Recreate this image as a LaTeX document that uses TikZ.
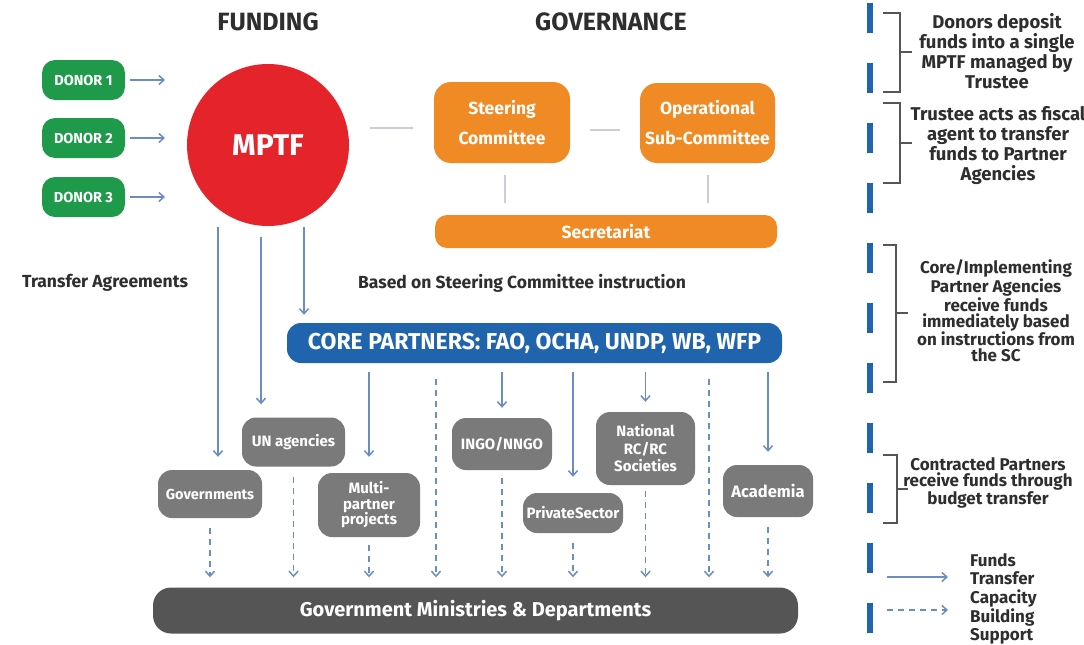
\documentclass[tikz,border=0pt]{standalone}
\usepackage{fontspec}
\setmainfont{Fira Sans}
\usetikzlibrary{arrows.meta,calc}
\definecolor{dgreen}{HTML}{1E9A4A}
\definecolor{mred}{HTML}{E5232A}
\definecolor{morange}{HTML}{F08A24}
\definecolor{mblue}{HTML}{1F64AD}
\definecolor{mgray}{HTML}{7A7A7A}
\definecolor{dgray}{HTML}{555555}
\definecolor{arr}{HTML}{6A8DC2}
\definecolor{lgray}{HTML}{C9CED8}
\definecolor{txt}{HTML}{2E2E2E}
\begin{document}
\begin{tikzpicture}[x=1pt,y=-1pt,
  every node/.style={font=\bfseries},
  donorbox/.style={fill=dgreen,text=white,rounded corners=13pt,minimum width=83pt,minimum height=40pt,inner sep=0pt,font=\bfseries\fontsize{14.5}{16}\selectfont},
  orbox/.style={fill=morange,text=white,rounded corners=17pt,inner sep=0pt,align=center,font=\bfseries\fontsize{17.5}{30}\selectfont},
  graybox/.style={fill=mgray,text=white,rounded corners=14pt,inner sep=0pt,align=center,font=\bfseries\fontsize{15}{16}\selectfont},
  farrow/.style={draw=arr,line width=1.5pt,-{Straight Barb[length=5pt,width=9pt,line width=1.5pt]}},
  carrow/.style={farrow,dash pattern=on 6pt off 5pt},
  gline/.style={draw=lgray,line width=1.5pt},
  brk/.style={draw=dgray,line width=1.2pt},
  side/.style={text=txt,align=center,inner sep=0pt},
]
\useasboundingbox[fill=white] (0,0) rectangle (1084,645);

% titles
\node[text=txt,font=\bfseries\fontsize{25}{27}\selectfont] (tf) at (268,22) {FUNDING};
\node[text=txt,font=\bfseries\fontsize{25}{27}\selectfont] (tg) at (611,22) {GOVERNANCE};

% donors
\node[donorbox] (d1) at (83.5,80) {DONOR 1};
\node[donorbox] (d2) at (83.5,138) {DONOR 2};
\node[donorbox] (d3) at (83.5,197) {DONOR 3};
\coordinate (e1) at (165,80);
\coordinate (e2) at (165,138);
\coordinate (e3) at (165,197);
\draw[farrow,shorten <=5pt] (d1.east) -- (e1);
\draw[farrow,shorten <=5pt] (d2.east) -- (e2);
\draw[farrow,shorten <=5pt] (d3.east) -- (e3);

% MPTF
\node[circle,fill=mred,text=white,minimum size=162pt,inner sep=0pt,font=\bfseries\fontsize{30}{32}\selectfont] (mptf) at (268,145) {MPTF};

% governance
\node[orbox,minimum width=136pt,minimum height=81pt] (sc) at (502,122.5) {Steering\\Committee};
\node[orbox,minimum width=135pt,minimum height=80pt] (osc) at (707.5,123) {Operational\\Sub-Committee};
\node[orbox,minimum width=342pt,minimum height=33pt,rounded corners=12pt] (sec) at (606,231.5) {Secretariat};
\coordinate (g1) at (370,128);
\coordinate (g2) at (413,128);
\draw[gline] (g1) -- (g2);
\draw[gline,shorten <=20pt,shorten >=20pt] (sc.east |- 0,130) -- (osc.west |- 0,130);
\coordinate (v1) at (505,0);
\coordinate (v2) at (708,0);
\draw[gline,shorten <=12pt,shorten >=12pt] (sc.south -| v1) -- (sec.north -| v1);
\draw[gline,shorten <=12pt,shorten >=12pt] (osc.south -| v2) -- (sec.north -| v2);

% labels
\node[text=txt,font=\bfseries\fontsize{17.5}{19}\selectfont] (ta) at (105,283) {Transfer Agreements};
\node[text=txt,font=\bfseries\fontsize{17.5}{19}\selectfont] (tb) at (522,283) {Based on Steering Committee instruction};

% core partners
\node[fill=mblue,text=white,rounded corners=14pt,minimum width=495pt,minimum height=40pt,inner sep=0pt,font=\bfseries\fontsize{23}{25}\selectfont] (core) at (534.5,343) {CORE PARTNERS: FAO, OCHA, UNDP, WB, WFP};

% partner boxes
\node[graybox,minimum width=104pt,minimum height=48pt,font=\bfseries\fontsize{14.5}{16}\selectfont] (gov) at (210,494) {Governments};
\node[graybox,minimum width=103pt,minimum height=49pt] (un) at (293.5,442) {UN agencies};
\node[graybox,minimum width=102pt,minimum height=64pt,font=\bfseries\fontsize{15}{15.5}\selectfont] (multi) at (369,505) {Multi-\\partner\\projects};
\node[graybox,minimum width=100pt,minimum height=52pt] (ingo) at (502,444) {INGO/NNGO};
\node[graybox,minimum width=100pt,minimum height=40pt] (priv) at (573,513) {PrivateSector};
\node[graybox,minimum width=99pt,minimum height=73pt,font=\bfseries\fontsize{15}{17.5}\selectfont] (natl) at (645.5,448.5) {National\\RC/RC\\Societies};
\node[graybox,minimum width=90pt,minimum height=52pt,font=\bfseries\fontsize{16.5}{18}\selectfont] (acad) at (768,491) {Academia};

% government ministries
\node[fill=dgray,text=white,rounded corners=18pt,minimum width=645pt,minimum height=46pt,inner sep=0pt,font=\bfseries\fontsize{20}{22}\selectfont] (gmd) at (475.5,610.5) {Government Ministries \& Departments};

% MPTF transfers
\coordinate (m1) at (218,227);
\coordinate (m2) at (261,237);
\coordinate (m3) at (304,227);
\draw[farrow,shorten >=13pt] (m1) -- (m1 |- gov.north);
\draw[farrow,shorten >=13pt] (m2) -- (m2 |- un.north);
\draw[farrow,shorten >=8pt] (m3) -- (m3 |- core.north);

% core partner transfers
\draw[farrow,shorten <=9pt,shorten >=16pt] (core.south -| multi.north) -- (multi.north);
\draw[farrow,shorten <=9pt,shorten >=10pt] (core.south -| ingo.north) -- (ingo.north);
\draw[farrow,shorten <=9pt,shorten >=16pt] (core.south -| priv.north) -- (priv.north);
\draw[farrow,shorten <=9pt,shorten >=10pt] (core.south -| natl.north) -- (natl.north);
\draw[farrow,shorten <=9pt,shorten >=13pt] (core.south -| acad.north) -- (acad.north);

% capacity building
\coordinate (c1) at (436,0);
\coordinate (c2) at (709,0);
\draw[carrow,shorten <=16pt,shorten >=10pt] (core.south -| c1) -- (gmd.north -| c1);
\draw[carrow,shorten <=16pt,shorten >=10pt] (core.south -| c2) -- (gmd.north -| c2);
\draw[carrow,shorten <=10pt,shorten >=10pt] (gov.south) -- (gmd.north -| gov.south);
\draw[carrow,shorten <=10pt,shorten >=10pt] (un.south) -- (gmd.north -| un.south);
\draw[carrow,shorten <=8pt,shorten >=10pt] (multi.south) -- (gmd.north -| multi.south);
\draw[carrow,shorten <=8pt,shorten >=10pt] (ingo.south) -- (gmd.north -| ingo.south);
\draw[carrow,shorten <=10pt,shorten >=10pt] (priv.south) -- (gmd.north -| priv.south);
\draw[carrow,shorten <=6pt,shorten >=10pt] (natl.south) -- (gmd.north -| natl.south);
\draw[carrow,shorten <=10pt,shorten >=10pt] (acad.south) -- (gmd.north -| acad.south);

% right side
\draw[draw=mblue,line width=6pt,dash pattern=on 30pt off 30pt] (870,3) -- (870,633);
\draw[brk] (883,13) -- (900,13) -- (900,92) -- (883,92);
\draw[brk] (900,52) -- (912,52);
\draw[brk] (883,103) -- (900,103) -- (900,183) -- (883,183);
\draw[brk] (900,143) -- (912,143);
\draw[brk] (883,245) -- (896,245) -- (896,382) -- (883,382);
\draw[brk] (896,313) -- (908,313);
\draw[brk] (883,455) -- (897,455) -- (897,523) -- (883,523);
\draw[brk] (897,489) -- (908,489);

\node[side,font=\bfseries\fontsize{18.5}{20}\selectfont] (s1) at (997,51) {Donors deposit\\funds into a single\\MPTF managed by\\Trustee};
\node[side,font=\bfseries\fontsize{18.5}{20}\selectfont] (s2) at (998,146) {Trustee acts as fiscal\\agent to transfer\\funds to Partner\\Agencies};
\node[side,font=\bfseries\fontsize{17}{16}\selectfont] (s3) at (996,311) {Core/Implementing\\Partner Agencies\\receive funds\\immediately based\\on instructions from\\the SC};
\node[side,font=\bfseries\fontsize{17}{15.5}\selectfont] (s4) at (988,483) {Contracted Partners\\receive funds through\\budget transfer};

\node[side,align=left,anchor=west,font=\bfseries\fontsize{17}{18}\selectfont] (l1) at (970,569) {Funds\\Transfer};
\node[side,align=left,anchor=west,font=\bfseries\fontsize{17}{18.5}\selectfont] (l2) at (970,617) {Capacity\\Building\\Support};
\coordinate (la) at (887,577);
\coordinate (lb) at (948,577);
\coordinate (lc) at (887,610);
\coordinate (ld) at (948,610);
\draw[farrow] (la) -- (lb);
\draw[carrow] (lc) -- (ld);
\end{tikzpicture}
\end{document}
